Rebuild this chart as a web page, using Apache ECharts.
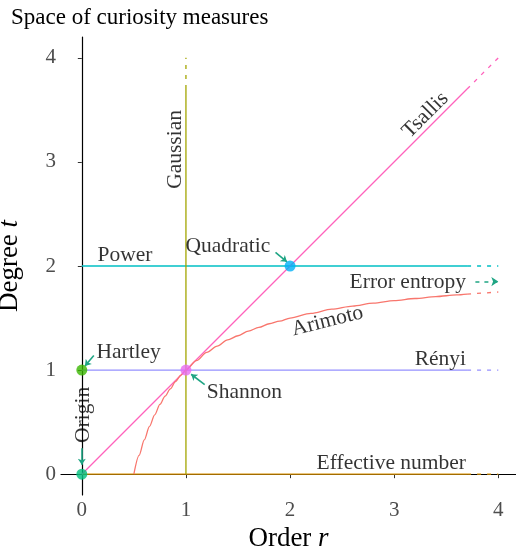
<!DOCTYPE html>
<html><head><meta charset="utf-8">
<script src="https://cdn.jsdelivr.net/npm/echarts@6/dist/echarts.min.js"></script>
<style>html,body{margin:0;padding:0;background:#fff}#c{width:516px;height:548px}</style>
</head><body><div id="c"></div>
<script>
const tickValues = [0, 1, 2, 3, 4];
const solidEnd = 3.7;
const axisEnd = 4;
// straight families
const tsallisPts = [[0, 0], [solidEnd, solidEnd]];
const tsallisDash = [[solidEnd, solidEnd], [axisEnd, axisEnd]];
const gaussianPts = [[1, 0], [1, solidEnd]];
const gaussianDash = [[1, solidEnd], [1, axisEnd]];
const powerPts = [[0, 2], [solidEnd, 2]];
const powerDash = [[solidEnd, 2], [axisEnd, 2]];
const renyiPts = [[0, 1], [solidEnd, 1]];
const renyiDash = [[solidEnd, 1], [axisEnd, 1]];
const effPts = [[0, 0], [solidEnd, 0]];
const effDash = [[solidEnd, 0], [axisEnd, 0]];
// Arimoto curve
const arimotoR = [0.5, 0.55, 0.6, 0.65, 0.7, 0.75, 0.8, 0.85, 0.9, 0.95, 1, 1.1, 1.2, 1.3, 1.4, 1.5, 1.6, 1.7, 1.8, 1.9, 2, 2.2, 2.4, 2.6, 2.8, 3, 3.2, 3.4, 3.6, 3.7];
const arimotoT = [0, 0.18, 0.33, 0.46, 0.57, 0.67, 0.75, 0.82, 0.89, 0.95, 1, 1.09, 1.17, 1.23, 1.29, 1.33, 1.375, 1.41, 1.445, 1.47, 1.5, 1.545, 1.585, 1.615, 1.643, 1.667, 1.688, 1.706, 1.722, 1.73];
const arimotoDashR = [3.7, 3.85, 4];
const arimotoDashT = [1.73, 1.74, 1.75];
// special points
const pointNames = ['Origin', 'Hartley', 'Shannon', 'Quadratic'];
const pointXY = [[0, 0], [0, 1], [1, 1], [2, 2]];
const pointColors = ['#00BF7D', '#39B600', '#E76BF3', '#00B0F6'];
// arrows [from, to]
const arrowCoords = [
  [[0, 0.25], [0, 0.09]],
  [[0.115, 1.14], [0.03, 1.04]],
  [[1.18, 0.86], [1.05, 0.96]],
  [[1.86, 2.13], [1.97, 2.04]]
];
const errorArrow = [[3.78, 1.85], [4.0, 1.85]];
// text labels: [text, x, y, align, rotate]
const textLabels = [
  ['Power', 0.15, 2.1, 'left', 0],
  ['Quadratic', 1.81, 2.19, 'right', 0],
  ['Error entropy', 3.69, 1.84, 'right', 0],
  ['Arimoto', 2.36, 1.47, 'center', 14],
  ['Rényi', 3.69, 1.1, 'right', 0],
  ['Hartley', 0.14, 1.17, 'left', 0],
  ['Shannon', 1.2, 0.79, 'left', 0],
  ['Origin', 0.01, 0.57, 'center', 90],
  ['Effective number', 3.69, 0.1, 'right', 0],
  ['Gaussian', 0.9, 3.12, 'center', 90],
  ['Tsallis', 3.3, 3.45, 'center', 45]
];

const FONT = 'Liberation Serif';
const zip = (a, b) => a.map((v, i) => [v, b[i]]);
function lineS(data, color, dashed) {
  return {
    type: 'line', data: data, showSymbol: false, symbol: 'none', silent: true,
    lineStyle: { color: color, width: 1.3, type: dashed ? [4, 6] : 'solid' },
    z: 2
  };
}
const series = [
  lineS(effPts, '#D89000'), lineS(effDash, '#D89000', true),
  lineS(renyiPts, '#9590FF'), lineS(renyiDash, '#9590FF', true),
  lineS(powerPts, '#00BFC4'), lineS(powerDash, '#00BFC4', true),
  lineS(gaussianPts, '#A3A500'), lineS(gaussianDash, '#A3A500', true),
  lineS(tsallisPts, '#FF62BC'), lineS(tsallisDash, '#FF62BC', true),
  Object.assign(lineS(zip(arimotoR, arimotoT), '#F8766D'), { smooth: 0.3, smoothMonotone: 'x' }),
  lineS(zip(arimotoDashR, arimotoDashT), '#F8766D', true),
  {
    type: 'scatter', symbolSize: 11, z: 5, silent: true,
    data: pointXY.map((p, i) => ({ value: p, name: pointNames[i], itemStyle: { color: pointColors[i] } }))
  },
  {
    type: 'lines', coordinateSystem: 'cartesian2d', silent: true, z: 4,
    symbol: ['none', 'arrow'], symbolSize: 6,
    lineStyle: { color: '#1FA584', width: 1.6, opacity: 1 },
    data: arrowCoords.map(c => ({ coords: c }))
  },
  {
    type: 'lines', coordinateSystem: 'cartesian2d', silent: true, z: 4,
    symbol: ['none', 'arrow'], symbolSize: 7,
    lineStyle: { color: '#1FA584', width: 1.6, opacity: 1, type: [4, 5] },
    data: [{ coords: errorArrow }]
  },
  {
    type: 'scatter', symbolSize: 0, silent: true, z: 6,
    itemStyle: { color: 'rgba(0,0,0,0)' },
    data: textLabels.map(t => ({
      value: [t[1], t[2]],
      label: {
        show: true, position: 'inside', formatter: t[0], align: t[3], verticalAlign: 'middle',
        rotate: t[4], color: '#000', fontFamily: FONT, fontSize: 21.5
      }
    }))
  }
];

const chart = echarts.init(document.getElementById('c'), null, { renderer: 'canvas' });
chart.setOption({
  animation: false,
  backgroundColor: '#fff',
  title: {
    text: 'Space of curiosity measures', left: 6, top: 1,
    textStyle: { fontFamily: FONT, fontSize: 23, fontWeight: 'normal', color: '#000' }
  },
  grid: { left: 61, right: 0, top: 37, bottom: 53, containLabel: false, outerBoundsMode: 'none' },
  xAxis: {
    type: 'value', min: -0.2, max: 4.17,
    name: 'Order {i|r}', nameLocation: 'middle', nameGap: 28,
    nameTextStyle: { fontFamily: FONT, fontSize: 27, color: '#000', rich: { i: { fontStyle: 'italic', fontFamily: FONT, fontSize: 27 } } },
    axisLine: { show: true, lineStyle: { color: '#000', width: 1.2 } },
    axisTick: { show: true, length: 4, customValues: tickValues, lineStyle: { color: '#333' } },
    axisLabel: { customValues: tickValues, margin: 5, color: '#4D4D4D', fontFamily: FONT, fontSize: 21 },
    splitLine: { show: false }
  },
  yAxis: {
    type: 'value', min: -0.2, max: 4.2,
    name: 'Degree {i|t}', nameLocation: 'middle', nameGap: 38,
    nameTextStyle: { fontFamily: FONT, fontSize: 27, color: '#000', rich: { i: { fontStyle: 'italic', fontFamily: FONT, fontSize: 27 } } },
    axisLine: { show: true, lineStyle: { color: '#000', width: 1.2 } },
    axisTick: { show: true, length: 4, customValues: tickValues, lineStyle: { color: '#333' } },
    axisLabel: { customValues: tickValues, margin: 5, color: '#4D4D4D', fontFamily: FONT, fontSize: 21 },
    splitLine: { show: false }
  },
  series: series
});
</script></body></html>
